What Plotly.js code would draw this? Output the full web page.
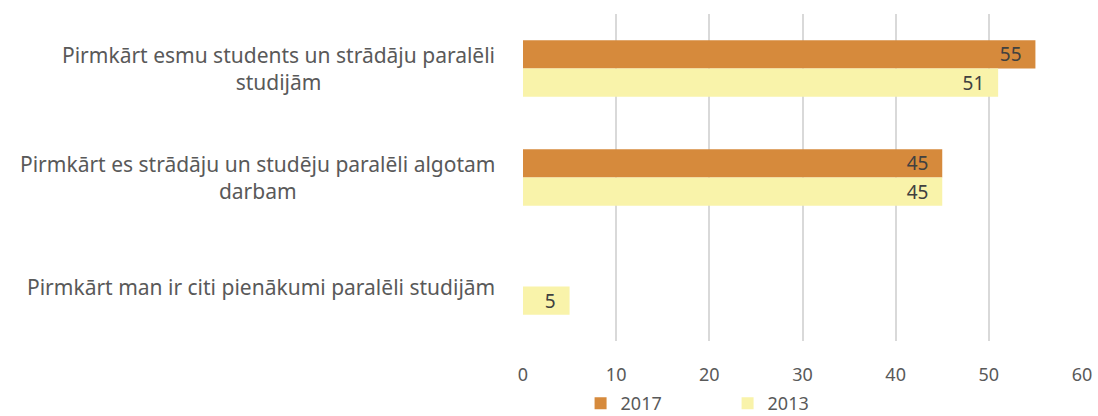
<!DOCTYPE html>
<html>
<head>
<meta charset="utf-8">
<script src="https://cdn.plot.ly/plotly-3.0.1.min.js"></script>
<style>
  body { margin: 0; background: #fff; }
  #chart { width: 1098px; height: 416px; }
</style>
</head>
<body>
<div id="chart"></div>
<script>
// categories, top to bottom
var categories = [
  "Pirmkārt esmu students un strādāju paralēli<br>studijām",
  "Pirmkārt es strādāju un studēju paralēli algotam<br>darbam",
  "Pirmkārt man ir citi pienākumi paralēli studijām"
];
var keys = ["c1", "c2", "c3"];

var vals2017 = [55, 45, null];
var vals2013 = [51, 45, 5];

var fontFam = "Noto Sans, Open Sans, sans-serif";

// Trace 2017
var trace2017 = {
  type: "bar",
  orientation: "h",
  name: "2017",
  y: keys,
  x: vals2017,
  marker: { color: "#D68A3C" },
  text: vals2017.map(v => v == null ? "" : v + "\u2007"),
  textposition: "inside",
  insidetextanchor: "end",
  textangle: 0,
  constraintext: "none",
  textfont: { color: "#404040", size: 19, family: fontFam },
  hoverinfo: "x"
};

// Trace 2013
var trace2013 = {
  type: "bar",
  orientation: "h",
  name: "2013",
  y: keys,
  x: vals2013,
  marker: { color: "#F9F3AA" },
  text: vals2013.map(v => v + "\u2007"),
  textposition: "inside",
  insidetextanchor: "end",
  textangle: 0,
  constraintext: "none",
  textfont: { color: "#404040", size: 19, family: fontFam },
  hoverinfo: "x"
};

var traceData = [trace2017, trace2013];

// category labels, centred like the original
var catLabels = keys.map((k, i) => ({
  xref: "paper",
  yref: "y",
  x: 0,
  y: k,
  xshift: -26,
  xanchor: "right",
  yanchor: "middle",
  align: "center",
  showarrow: false,
  text: categories[i],
  font: { family: fontFam, size: 21, color: "#595959" }
}));

var layout = {
  width: 1098,
  height: 416,
  margin: { l: 523, r: 16, t: 14, b: 75 },
  paper_bgcolor: "#fff",
  plot_bgcolor: "#fff",
  font: { family: fontFam, size: 18, color: "#595959" },
  barmode: "group",
  bargap: 0.48,
  bargroupgap: 0,
  xaxis: {
    range: [0, 60],
    dtick: 10,
    showgrid: true,
    gridcolor: "#D9D9D9",
    gridwidth: 2,
    zeroline: false,
    showline: false,
    ticks: "",
    ticklabelstandoff: 21,
    tickfont: { size: 18, color: "#595959" },
    fixedrange: true
  },
  yaxis: {
    autorange: "reversed",
    showticklabels: false,
    showgrid: false,
    zeroline: false,
    showline: false,
    ticks: "",
    fixedrange: true
  },
  showlegend: true,
  legend: {
    orientation: "h",
    x: 0.103,
    xanchor: "left",
    yref: "container",
    y: 0.03,
    yanchor: "middle",
    font: { size: 18, color: "#595959" },
    entrywidth: 102,
    itemwidth: 30
  },
  annotations: catLabels
};

Plotly.newPlot("chart", traceData, layout, { displayModeBar: false, staticPlot: true });
</script>
</body>
</html>
